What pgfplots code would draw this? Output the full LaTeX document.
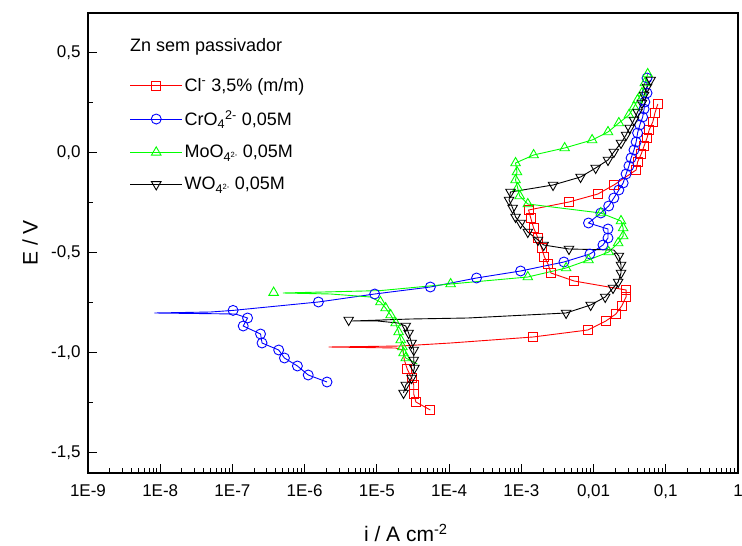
\documentclass[border=0pt]{standalone}
\usepackage{fontspec}
\setmainfont{Liberation Sans}
\usepackage{pgfplots}
\pgfplotsset{compat=1.18}
\definecolor{ogreen}{RGB}{0,255,0}
\definecolor{oblue}{RGB}{0,0,255}
\definecolor{ored}{RGB}{255,0,0}
\pgfplotsset{
 redS/.style={ored, line width=0.9pt, mark=square, mark size=4.5pt, mark options={fill=white, solid, line width=0.9pt}},
 blueS/.style={oblue, line width=0.9pt, mark=o, mark size=5pt, mark options={fill=white, solid, line width=0.9pt}},
 greenS/.style={ogreen, line width=0.9pt, mark=triangle, mark size=5.5pt, mark options={fill=white, solid, line width=0.9pt}},
 blackS/.style={black, line width=0.9pt, mark=triangle, mark size=5.5pt, mark options={fill=white, solid, line width=0.9pt, rotate=180}},
}
\begin{document}
\begin{tikzpicture}
\begin{axis}[
 scale only axis, width=650pt, height=460pt,
 xmode=log, xmin=1e-9, xmax=1, ymin=-1.6, ymax=0.7,
 xtick={1e-9,1e-8,1e-7,1e-6,1e-5,1e-4,1e-3,1e-2,1e-1,1},
 xticklabels={1E-9,1E-8,1E-7,1E-6,1E-5,1E-4,1E-3,{0,01},{0,1},1},
 ytick={-1.5,-1,-0.5,0,0.5},
 yticklabels={{-1,5},{-1,0},{-0,5},{0,0},{0,5}},
 minor ytick={-1.25,-0.75,-0.25,0.25},
 tick pos=left, tick align=inside,
 major tick length=9pt, minor tick length=5pt,
 tick style={black, line width=1pt},
 axis line style={line width=1.3pt},
 tick label style={font=\fontsize{17}{20}\selectfont},
 xticklabel style={yshift=-8pt},
 yticklabel style={xshift=-4pt},
 xlabel={i / A cm\textsuperscript{-2}},
 ylabel={E / V},
 label style={font=\fontsize{21}{24}\selectfont},
 xlabel style={at={(axis description cs:0.489,-0.15)}, anchor=base},
 ylabel style={at={(axis description cs:-0.089,0.5)}, anchor=center},
 legend cell align=left,
 legend style={draw=none, fill=none, at={(axis description cs:0.064,0.863)}, anchor=north west,
   font=\fontsize{18}{21}\selectfont, row sep=14pt, inner sep=0pt},
 legend image code/.code={\draw[mark repeat=2,mark phase=2,#1] plot coordinates {(0pt,0pt) (26pt,0pt) (52pt,0pt)};},
]
% ---- Cl- (red)
\addplot[ored, line width=0.9pt, forget plot] coordinates {
(5.50e-5,-1.285)(3.47e-5,-1.245)(3.24e-5,-1.205)(3.24e-5,-1.16)(3.02e-5,-1.125)(2.63e-5,-1.08)
(2.40e-5,-1.035)(2.29e-5,-0.985)(1.82e-5,-0.975)(2.14e-6,-0.97)(2.14e-5,-0.965)(1.05e-4,-0.95)
(1.45e-3,-0.92)(8.32e-3,-0.885)(1.48e-2,-0.84)(2.04e-2,-0.805)(2.45e-2,-0.765)(2.82e-2,-0.72)
(2.82e-2,-0.685)(5.37e-3,-0.64)(2.57e-3,-0.60)(2.34e-3,-0.555)(2.09e-3,-0.52)(1.91e-3,-0.475)
(1.70e-3,-0.425)(1.48e-3,-0.375)(1.35e-3,-0.325)(1.26e-3,-0.285)(4.57e-3,-0.245)(1.15e-2,-0.205)
(1.91e-2,-0.16)(3.89e-2,-0.085)(4.07e-2,-0.045)(4.57e-2,-0.005)(5.01e-2,0.035)(5.50e-2,0.075)
(5.89e-2,0.115)(6.61e-2,0.155)(7.08e-2,0.20)(7.76e-2,0.245)};
\addplot[redS, only marks, forget plot] coordinates {
(5.50e-5,-1.285)(3.47e-5,-1.245)(3.24e-5,-1.205)(3.24e-5,-1.16)(3.02e-5,-1.125)(2.63e-5,-1.08)
(1.45e-3,-0.92)(8.32e-3,-0.885)(1.48e-2,-0.84)(2.04e-2,-0.805)(2.45e-2,-0.765)(2.82e-2,-0.72)
(2.82e-2,-0.685)(5.37e-3,-0.64)(2.57e-3,-0.60)(2.34e-3,-0.555)(2.09e-3,-0.52)(1.91e-3,-0.475)
(1.70e-3,-0.425)(1.48e-3,-0.375)(1.35e-3,-0.325)(1.26e-3,-0.285)(4.57e-3,-0.245)(1.15e-2,-0.205)
(1.91e-2,-0.16)(3.89e-2,-0.085)(4.07e-2,-0.045)(4.57e-2,-0.005)(5.01e-2,0.035)(5.50e-2,0.075)
(5.89e-2,0.115)(6.61e-2,0.155)(7.08e-2,0.20)(7.76e-2,0.245)};
% ---- CrO4 (blue)
\addplot[oblue, line width=0.9pt, forget plot] coordinates {
(2.04e-6,-1.145)(1.12e-6,-1.11)(7.94e-7,-1.065)(5.25e-7,-1.025)(4.37e-7,-0.985)(2.57e-7,-0.95)
(2.45e-7,-0.905)(1.41e-7,-0.865)(1.62e-7,-0.825)(1.1e-7,-0.805)(8.32e-9,-0.80)(5.0e-8,-0.795)
(1.02e-7,-0.787)(1.55e-6,-0.745)(9.33e-6,-0.705)(5.50e-5,-0.67)(2.40e-4,-0.625)(9.77e-4,-0.59)
(3.89e-3,-0.545)(8.91e-3,-0.505)(1.35e-2,-0.46)(1.585e-2,-0.425)(1.585e-2,-0.38)(8.51e-3,-0.35)
(1.26e-2,-0.30)(1.62e-2,-0.265)(1.91e-2,-0.225)(2.24e-2,-0.185)(2.57e-2,-0.15)(2.82e-2,-0.105)
(3.09e-2,-0.065)(3.31e-2,-0.025)(3.63e-2,0.015)(3.89e-2,0.055)(4.07e-2,0.10)(4.37e-2,0.14)
(4.79e-2,0.18)(5.01e-2,0.22)(5.13e-2,0.255)(5.50e-2,0.30)(5.50e-2,0.375)};
\addplot[blueS, only marks, forget plot] coordinates {
(2.04e-6,-1.145)(1.12e-6,-1.11)(7.94e-7,-1.065)(5.25e-7,-1.025)(4.37e-7,-0.985)(2.57e-7,-0.95)
(2.45e-7,-0.905)(1.41e-7,-0.865)(1.62e-7,-0.825)
(1.02e-7,-0.787)(1.55e-6,-0.745)(9.33e-6,-0.705)(5.50e-5,-0.67)(2.40e-4,-0.625)(9.77e-4,-0.59)
(3.89e-3,-0.545)(8.91e-3,-0.505)(1.35e-2,-0.46)(1.585e-2,-0.425)(1.585e-2,-0.38)(8.51e-3,-0.35)
(1.26e-2,-0.30)(1.62e-2,-0.265)(1.91e-2,-0.225)(2.24e-2,-0.185)(2.57e-2,-0.15)(2.82e-2,-0.105)
(3.09e-2,-0.065)(3.31e-2,-0.025)(3.63e-2,0.015)(3.89e-2,0.055)(4.07e-2,0.10)(4.37e-2,0.14)
(4.79e-2,0.18)(5.01e-2,0.22)(5.13e-2,0.255)(5.50e-2,0.30)(5.50e-2,0.375)};
% ---- MoO4 (green)
\addplot[ogreen, line width=0.9pt, forget plot] coordinates {
(3.63e-5,-1.055)(2.51e-5,-1.025)(2.34e-5,-1.00)(2.26e-5,-0.97)(2.14e-5,-0.935)(2.00e-5,-0.895)
(1.82e-5,-0.85)(1.55e-5,-0.81)(1.32e-5,-0.775)(1.12e-5,-0.745)(8.13e-6,-0.72)(2.29e-6,-0.705)
(5.0e-7,-0.70)(1.12e-5,-0.688)(1.05e-4,-0.655)(1.23e-3,-0.62)(4.17e-3,-0.575)(8.51e-3,-0.535)
(1.62e-2,-0.495)(2.19e-2,-0.45)(2.57e-2,-0.415)(2.57e-2,-0.375)(2.40e-2,-0.34)(1.26e-2,-0.30)
(1.23e-3,-0.255)(9.5e-4,-0.215)(8.91e-4,-0.175)(8.32e-4,-0.135)(8.71e-4,-0.095)(8.32e-4,-0.05)
(1.48e-3,-0.01)(3.98e-3,0.025)(9.55e-3,0.065)(1.585e-2,0.105)(2.24e-2,0.15)(3.09e-2,0.19)
(3.63e-2,0.23)(4.07e-2,0.265)(4.68e-2,0.30)(5.13e-2,0.35)(5.62e-2,0.395)};
\addplot[greenS, only marks, forget plot] coordinates {
(2.51e-5,-1.025)(2.34e-5,-1.00)(2.26e-5,-0.97)(2.14e-5,-0.935)(2.00e-5,-0.895)
(1.82e-5,-0.85)(1.55e-5,-0.81)(1.32e-5,-0.775)(1.12e-5,-0.745)
(3.72e-7,-0.698)(1.05e-4,-0.655)(1.23e-3,-0.62)(4.17e-3,-0.575)(8.51e-3,-0.535)
(1.62e-2,-0.495)(2.19e-2,-0.45)(2.57e-2,-0.415)(2.57e-2,-0.375)(2.40e-2,-0.34)(1.26e-2,-0.30)
(1.23e-3,-0.255)(9.5e-4,-0.215)(8.91e-4,-0.175)(8.32e-4,-0.135)(8.71e-4,-0.095)(8.32e-4,-0.05)
(1.48e-3,-0.01)(3.98e-3,0.025)(9.55e-3,0.065)(1.585e-2,0.105)(2.24e-2,0.15)(3.09e-2,0.19)
(3.63e-2,0.23)(4.07e-2,0.265)(4.68e-2,0.30)(5.13e-2,0.35)(5.62e-2,0.395)};
% ---- WO4 (black)
\addplot[black, line width=0.9pt, forget plot] coordinates {
(2.34e-5,-1.20)(2.51e-5,-1.16)(3.02e-5,-1.125)(3.31e-5,-1.075)(3.24e-5,-1.035)(3.24e-5,-0.985)
(3.02e-5,-0.95)(2.75e-5,-0.90)(2.51e-5,-0.865)(1.95e-5,-0.85)(1.02e-5,-0.84)(4.5e-6,-0.84)
(2.95e-5,-0.83)(1.82e-4,-0.825)(4.17e-3,-0.80)(9.12e-3,-0.76)(1.45e-2,-0.72)(1.86e-2,-0.675)
(2.19e-2,-0.645)(2.40e-2,-0.60)(2.40e-2,-0.56)(2.24e-2,-0.515)(1.91e-2,-0.485)(4.57e-3,-0.48)
(2.04e-3,-0.46)(1.70e-3,-0.435)(1.23e-3,-0.395)(9.77e-4,-0.35)(8.32e-4,-0.32)(7.59e-4,-0.275)
(6.76e-4,-0.235)(7.08e-4,-0.195)(2.75e-3,-0.16)(6.61e-3,-0.12)(1.07e-2,-0.075)(1.585e-2,-0.035)
(1.91e-2,0.005)(2.40e-2,0.05)(2.82e-2,0.09)(3.16e-2,0.125)(3.63e-2,0.165)(4.07e-2,0.205)
(4.68e-2,0.25)(5.01e-2,0.29)(5.50e-2,0.33)(6.17e-2,0.365)};
\addplot[blackS, only marks, forget plot] coordinates {
(2.34e-5,-1.20)(2.51e-5,-1.16)(3.02e-5,-1.125)(3.31e-5,-1.075)(3.24e-5,-1.035)(3.24e-5,-0.985)
(3.02e-5,-0.95)(2.75e-5,-0.90)(2.51e-5,-0.865)(4.07e-6,-0.835)
(4.17e-3,-0.80)(9.12e-3,-0.76)(1.45e-2,-0.72)(1.86e-2,-0.675)
(2.19e-2,-0.645)(2.40e-2,-0.60)(2.40e-2,-0.56)(2.24e-2,-0.515)(4.57e-3,-0.48)
(2.04e-3,-0.46)(1.70e-3,-0.435)(1.23e-3,-0.395)(9.77e-4,-0.35)(8.32e-4,-0.32)(7.59e-4,-0.275)
(6.76e-4,-0.235)(7.08e-4,-0.195)(2.75e-3,-0.16)(6.61e-3,-0.12)(1.07e-2,-0.075)(1.585e-2,-0.035)
(1.91e-2,0.005)(2.40e-2,0.05)(2.82e-2,0.09)(3.16e-2,0.125)(3.63e-2,0.165)(4.07e-2,0.205)
(4.68e-2,0.25)(5.01e-2,0.29)(5.50e-2,0.33)(6.17e-2,0.365)};
% ---- legend
\addlegendimage{redS}
\addlegendentry{Cl\textsuperscript{-} 3,5\% (m/m)}
\addlegendimage{blueS}
\addlegendentry{CrO\textsubscript{4}\textsuperscript{2-} 0,05M}
\addlegendimage{greenS}
\addlegendentry{MoO\textsubscript{4\raisebox{0.35em}{\scalebox{0.6}{2-}}} 0,05M}
\addlegendimage{blackS}
\addlegendentry{WO\textsubscript{4\raisebox{0.35em}{\scalebox{0.6}{2-}}} 0,05M}
\node[anchor=west, inner sep=0pt, font=\fontsize{18}{21}\selectfont] at (rel axis cs:0.0646,0.926) {Zn sem passivador};
\end{axis}
\pgfresetboundingbox
\path (current axis.south west) ++(-88pt,-73pt) rectangle ++(742pt,546pt);
\end{tikzpicture}
\end{document}
